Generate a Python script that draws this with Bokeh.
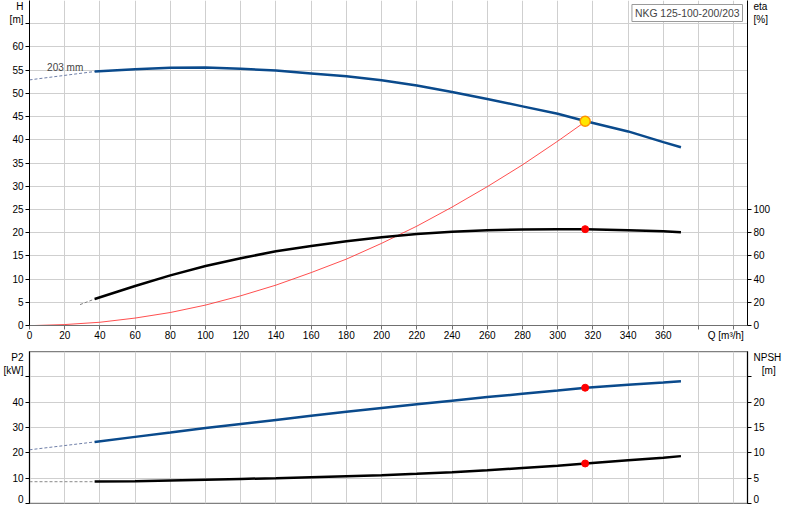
from bokeh.plotting import figure
from bokeh.models import Range1d, LinearAxis, FixedTicker, Label
from bokeh.layouts import column
from bokeh.embed import file_html
from bokeh.resources import INLINE

FONT = "Liberation Sans"
FS = "10px"

# ---------------- data ----------------
q_max = 407.8
q_ticks = list(range(0, 401, 20))
q_label_ticks = list(range(0, 361, 20))
q_title_pos = 395.5
q_title = "Q [m³/h]"

# pump head curve H [m]
q_h = [37, 60, 80, 100, 120, 140, 160, 180, 200, 220, 240, 260, 280, 300, 316, 340, 360, 370]
h = [54.7, 55.2, 55.5, 55.55, 55.3, 54.9, 54.3, 53.7, 52.8, 51.7, 50.3, 48.8, 47.2, 45.6, 44.0, 41.8, 39.5, 38.4]
q_h_ext = [0, 37]
h_ext = [52.9, 54.7]

# efficiency eta [%]
q_eta = [37, 60, 80, 100, 120, 140, 160, 180, 200, 220, 240, 260, 280, 300, 316, 340, 360, 370]
eta = [22.8, 34.0, 43.2, 51.2, 58.0, 63.9, 68.4, 72.5, 76.0, 78.8, 80.7, 82.0, 82.7, 83.0, 83.0, 82.1, 81.3, 80.4]
q_eta_ext = [28.7, 37]
eta_ext = [18.0, 22.8]

# system curve [m]
q_sys = [3, 20, 40, 60, 80, 100, 120, 140, 160, 180, 200, 220, 240, 260, 280, 300, 316]
h_sys = [0.0, 0.2, 0.7, 1.6, 2.8, 4.4, 6.4, 8.7, 11.4, 14.3, 17.7, 21.4, 25.5, 29.9, 34.6, 39.7, 44.0]

# power P2 [kW]
q_p2 = [37, 60, 80, 100, 120, 140, 160, 180, 200, 220, 240, 260, 280, 300, 316, 340, 360, 370]
p2 = [24.3, 26.3, 28.0, 29.8, 31.4, 33.0, 34.6, 36.2, 37.7, 39.2, 40.6, 42.0, 43.3, 44.6, 45.7, 46.9, 47.8, 48.3]
q_p2_ext = [0, 37]
p2_ext = [21.2, 24.3]

# NPSH [m]
q_npsh = [37, 60, 80, 100, 120, 140, 160, 180, 200, 220, 240, 260, 280, 300, 316, 340, 360, 370]
npsh = [4.33, 4.4, 4.55, 4.7, 4.85, 5.0, 5.2, 5.4, 5.6, 5.85, 6.15, 6.55, 7.0, 7.45, 7.9, 8.55, 9.05, 9.35]
q_npsh_ext = [0, 37]
npsh_ext = [4.33, 4.33]

# duty point
q_op = [315.6]
h_op = [44.0]
eta_op = [83.0]
p2_op = [45.7]
npsh_op = [7.9]

# axis ticks and titles
h_ticks = list(range(0, 66, 5))
h_label_ticks = list(range(0, 61, 5))
h_title_pos, h_title = 67.7, "H\n[m]"
eta_ticks = [0, 20, 40, 60, 80, 100]
eta_title_pos, eta_title = 270.8, "eta\n[%]"
p2_ticks = [0, 10, 20, 30, 40, 50]
p2_label_ticks = [0, 10, 20, 30, 40]
p2_title_pos, p2_title = 55.1, "P2\n[kW]"
npsh_ticks = [0, 5, 10, 15, 20, 25]
npsh_label_ticks = [0, 5, 10, 15, 20]
npsh_title_pos, npsh_title = 27.8, "NPSH\n\u00a0\u00a0\u00a0[m]"
model_name = "NKG 125-100-200/203"
impeller = "203 mm"

BLUE = "#0a4a8c"
GRID = "#cfcfcf"
W = 784
BL, BR = 27, 33
H1, H2 = 351, 153


def style_axis(ax, label_ticks, marks, title_pos, title, line_color="black", standoff=2):
    """Tick marks drawn as minor ticks; labelled positions as (invisible) major ticks."""
    ax.ticker = FixedTicker(ticks=list(label_ticks) + [title_pos], minor_ticks=list(marks))
    ax.major_label_overrides = {title_pos: title}
    ax.axis_line_color = line_color
    ax.major_tick_line_color = None
    ax.major_tick_out = 0
    ax.major_tick_in = 0
    ax.minor_tick_line_color = line_color
    ax.minor_tick_out = 4
    ax.minor_tick_in = 0
    ax.major_label_standoff = standoff
    ax.major_label_text_font = FONT
    ax.major_label_text_font_size = FS
    ax.major_label_text_color = "black"
    ax.major_label_text_line_height = 1.25


def style_grid(p, xt, yt):
    p.xgrid.ticker = FixedTicker(ticks=xt)
    p.ygrid.ticker = FixedTicker(ticks=yt)
    for g in (p.xgrid[0], p.ygrid[0]):
        g.grid_line_color = GRID
        g.grid_line_width = 1


# ---------------- top panel ----------------
p1 = figure(width=W, height=H1, x_range=Range1d(0, q_max), y_range=Range1d(0, 70),
            output_backend="svg", toolbar_location=None,
            min_border_left=BL, min_border_right=BR, min_border_top=0, min_border_bottom=26)
p1.extra_y_ranges = {"eta": Range1d(0, 280)}
p1.outline_line_color = None

style_axis(p1.xaxis[0], q_label_ticks, q_ticks, q_title_pos, q_title, "#707070", standoff=0)
style_axis(p1.yaxis[0], h_label_ticks, h_ticks, h_title_pos, h_title)
ax_eta = LinearAxis(y_range_name="eta")
style_axis(ax_eta, eta_ticks, eta_ticks, eta_title_pos, eta_title)
p1.add_layout(ax_eta, "right")
style_grid(p1, q_ticks[1:], list(range(5, 70, 5)))

# curves
p1.line(q_sys, h_sys, line_color="#ff3030", line_alpha=0.85, line_width=1)
p1.line(q_h_ext, h_ext, line_color="#6f7fa8", line_width=1, line_dash="3 2")
p1.line(q_h, h, line_color=BLUE, line_width=2.5)
p1.line(q_eta_ext, eta_ext, line_color="#808080", line_width=1, line_dash="3 2", y_range_name="eta")
p1.line(q_eta, eta, line_color="black", line_width=2.5, y_range_name="eta")
p1.scatter(q_op, eta_op, size=7, fill_color="red", line_color="red", y_range_name="eta")
p1.scatter(q_op, h_op, size=10, fill_color="#ffe600", line_color="#ff9000", line_width=1.5)

# texts inside the frame
p1.add_layout(Label(x=10, y=55.6, text=impeller, text_font=FONT, text_font_size=FS,
                    text_baseline="alphabetic"))
p1.add_layout(Label(x=q_max, y=70, text=model_name, text_font=FONT, text_font_size="10.4px",
                    text_align="right", text_baseline="top", x_offset=-5, y_offset=-4,
                    border_line_color="#9a9a9a", background_fill_color="white", padding=3))

# ---------------- bottom panel ----------------
p2f = figure(width=W, height=H2, x_range=p1.x_range, y_range=Range1d(0, 60),
             output_backend="svg", toolbar_location=None,
             min_border_left=BL, min_border_right=BR, min_border_top=0, min_border_bottom=1)
p2f.extra_y_ranges = {"npsh": Range1d(0, 30)}
p2f.outline_line_color = "#808080"
p2f.outline_line_width = 1.5
p2f.xaxis.visible = False

style_axis(p2f.yaxis[0], p2_label_ticks, p2_ticks, p2_title_pos, p2_title)
ax_npsh = LinearAxis(y_range_name="npsh")
style_axis(ax_npsh, npsh_label_ticks, npsh_ticks, npsh_title_pos, npsh_title)
p2f.add_layout(ax_npsh, "right")
style_grid(p2f, q_ticks[1:], [10, 20, 30, 40, 50])

p2f.line(q_p2_ext, p2_ext, line_color="#6f7fa8", line_width=1, line_dash="3 2")
p2f.line(q_p2, p2, line_color=BLUE, line_width=2.5)
p2f.line(q_npsh_ext, npsh_ext, line_color="#a0a0a0", line_width=1.2, line_dash="3 2", y_range_name="npsh")
p2f.line(q_npsh, npsh, line_color="black", line_width=2.5, y_range_name="npsh")
p2f.scatter(q_op, p2_op, size=7, fill_color="red", line_color="red")
p2f.scatter(q_op, npsh_op, size=7, fill_color="red", line_color="red", y_range_name="npsh")

layout = column(p1, p2f, spacing=0)
open("out.html", "w").write(file_html(layout, INLINE))
